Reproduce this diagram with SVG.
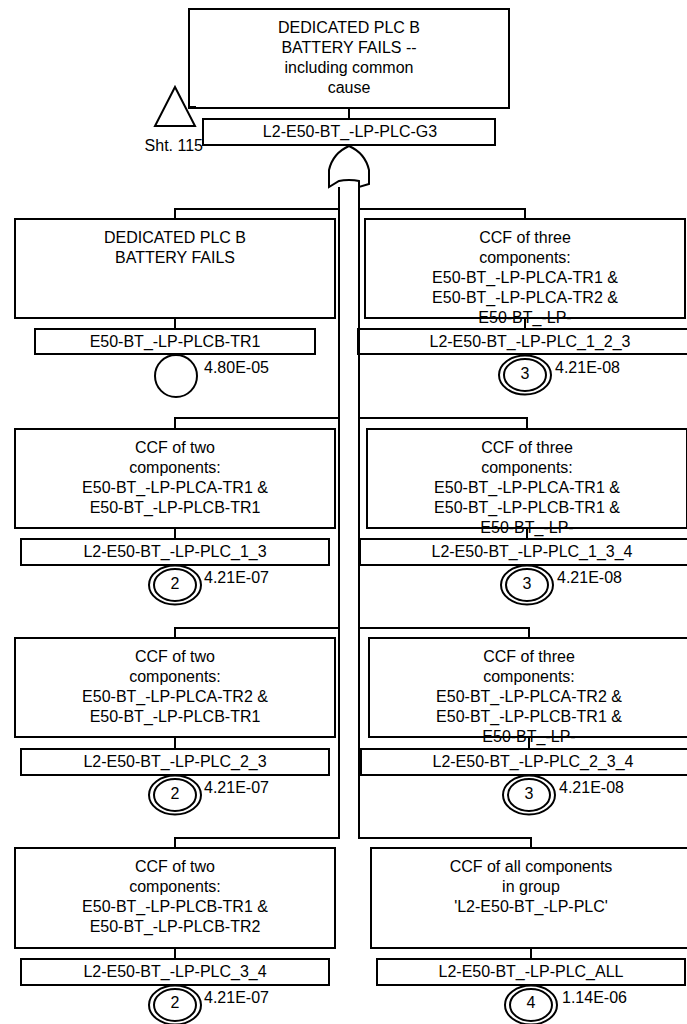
<svg xmlns="http://www.w3.org/2000/svg" width="687" height="1024" viewBox="0 0 687 1024">
<style>
.s{fill:#fff;stroke:#000;stroke-width:2}
.n{fill:none;stroke:#000;stroke-width:2}
text{font-family:"Liberation Sans",Arial,sans-serif;font-size:16px;fill:#000;text-anchor:middle}
.l{text-anchor:start}
</style>
<defs>
<g id="dbl"><ellipse class="n" rx="26" ry="19.500"/><ellipse class="n" rx="21" ry="16"/></g>
</defs>
<g id="connectors">
<path class="n" d="M339 187V838H175V848M359 187V838H531V848"/>
<path class="n" d="M339 209H175V219M359 209H525V219M339 418H175V429M359 418H527V429M339 628H175V638M359 628H529V638"/>
<path class="n" d="M349 108V119M175 318V329M525 318V329M175 528V539M527 528V539M175 737V749M529 737V749M175 948V959M531 948V959"/>
</g>
<g id="top"><rect class="s" x="189" y="9" width="320" height="99"/>
<path class="n" d="M188 107H196"/>
<text x="349" y="33">DEDICATED PLC B</text><text x="349" y="53">BATTERY FAILS --</text><text x="349" y="73">including common</text><text x="349" y="93">cause</text>
<polygon class="n" points="175,87 195,126 155,126"/>
<rect class="s" x="203" y="119" width="292" height="26"/><text x="350" y="137">L2-E50-BT_-LP-PLC-G3</text>
<text x="203" y="151" style="text-anchor:end">Sht. 115</text>
<path id="orgate" class="s" d="M349 146C358 150 366 157 369 170V184L359 187V181C355 180 352 180 349 180C346 180 343 180 339 181L329 187V170C332 157 340 150 349 146Z"/>
</g>
<g id="n1"><rect class="s" x="15" y="219" width="320" height="99"/>
<text x="175" y="243">DEDICATED PLC B</text><text x="175" y="263">BATTERY FAILS</text>
<rect class="s" x="35" y="329" width="280" height="25"/><text x="175" y="347">E50-BT_-LP-PLCB-TR1</text>
<circle class="n" cx="176" cy="376" r="21"/><text class="l" x="204" y="373">4.80E-05</text></g>
<g id="n2"><rect class="s" x="365" y="219" width="320" height="99"/>
<text x="525" y="243">CCF of three</text><text x="525" y="263">components:</text><text x="525" y="283">E50-BT_-LP-PLCA-TR1 &amp;</text><text x="525" y="303">E50-BT_-LP-PLCA-TR2 &amp;</text><text x="525" y="323">E50-BT_-LP-</text>
<path class="n" d="M365 318H685"/>
<rect class="s" x="358" y="329" width="340" height="25"/><rect x="357" y="329" width="3" height="25"/><text x="530" y="347">L2-E50-BT_-LP-PLC_1_2_3</text>
<use href="#dbl" x="525" y="375"/><text x="525" y="379">3</text><text class="l" x="555" y="373">4.21E-08</text></g>
<g id="n3"><rect class="s" x="15" y="429" width="320" height="99"/>
<text x="175" y="453">CCF of two</text><text x="175" y="473">components:</text><text x="175" y="493">E50-BT_-LP-PLCA-TR1 &amp;</text><text x="175" y="513">E50-BT_-LP-PLCB-TR1</text>
<rect class="s" x="21" y="539" width="308" height="26"/><text x="175" y="557">L2-E50-BT_-LP-PLC_1_3</text>
<use href="#dbl" x="175" y="585"/><text x="175" y="589">2</text><text class="l" x="204" y="583">4.21E-07</text></g>
<g id="n4"><rect class="s" x="367" y="429" width="320" height="99"/>
<text x="527" y="453">CCF of three</text><text x="527" y="473">components:</text><text x="527" y="493">E50-BT_-LP-PLCA-TR1 &amp;</text><text x="527" y="513">E50-BT_-LP-PLCB-TR1 &amp;</text><text x="527" y="533">E50-BT_-LP-</text>
<path class="n" d="M367 528H687"/>
<rect class="s" x="360" y="539" width="340" height="26"/><text x="532" y="557">L2-E50-BT_-LP-PLC_1_3_4</text>
<use href="#dbl" x="527" y="585"/><text x="527" y="589">3</text><text class="l" x="557" y="583">4.21E-08</text></g>
<g id="n5"><rect class="s" x="15" y="638" width="320" height="99"/>
<text x="175" y="662">CCF of two</text><text x="175" y="682">components:</text><text x="175" y="702">E50-BT_-LP-PLCA-TR2 &amp;</text><text x="175" y="722">E50-BT_-LP-PLCB-TR1</text>
<rect class="s" x="21" y="749" width="308" height="26"/><text x="175" y="767">L2-E50-BT_-LP-PLC_2_3</text>
<use href="#dbl" x="175" y="795"/><text x="175" y="799">2</text><text class="l" x="204" y="793">4.21E-07</text></g>
<g id="n6"><rect class="s" x="369" y="638" width="320" height="99"/>
<text x="529" y="662">CCF of three</text><text x="529" y="682">components:</text><text x="529" y="702">E50-BT_-LP-PLCA-TR2 &amp;</text><text x="529" y="722">E50-BT_-LP-PLCB-TR1 &amp;</text><text x="529" y="742">E50-BT_-LP-</text>
<path class="n" d="M369 737H689"/>
<rect class="s" x="361" y="749" width="340" height="26"/><text x="533" y="767">L2-E50-BT_-LP-PLC_2_3_4</text>
<use href="#dbl" x="529" y="795"/><text x="529" y="799">3</text><text class="l" x="559" y="793">4.21E-08</text></g>
<g id="n7"><rect class="s" x="15" y="848" width="320" height="100"/>
<text x="175" y="872">CCF of two</text><text x="175" y="892">components:</text><text x="175" y="912">E50-BT_-LP-PLCB-TR1 &amp;</text><text x="175" y="932">E50-BT_-LP-PLCB-TR2</text>
<rect class="s" x="21" y="959" width="308" height="26"/><text x="175" y="977">L2-E50-BT_-LP-PLC_3_4</text>
<use href="#dbl" x="175" y="1005"/><text x="175" y="1008">2</text><text class="l" x="204" y="1003">4.21E-07</text></g>
<g id="n8"><rect class="s" x="371" y="848" width="320" height="100"/>
<text x="531" y="872">CCF of all components</text><text x="531" y="892">in group</text><text x="531" y="912">'L2-E50-BT_-LP-PLC'</text>
<rect class="s" x="377" y="959" width="308" height="26"/><text x="531" y="977">L2-E50-BT_-LP-PLC_ALL</text>
<use href="#dbl" x="531" y="1005"/><text x="531" y="1008">4</text><text class="l" x="562" y="1003">1.14E-06</text></g>
</svg>
